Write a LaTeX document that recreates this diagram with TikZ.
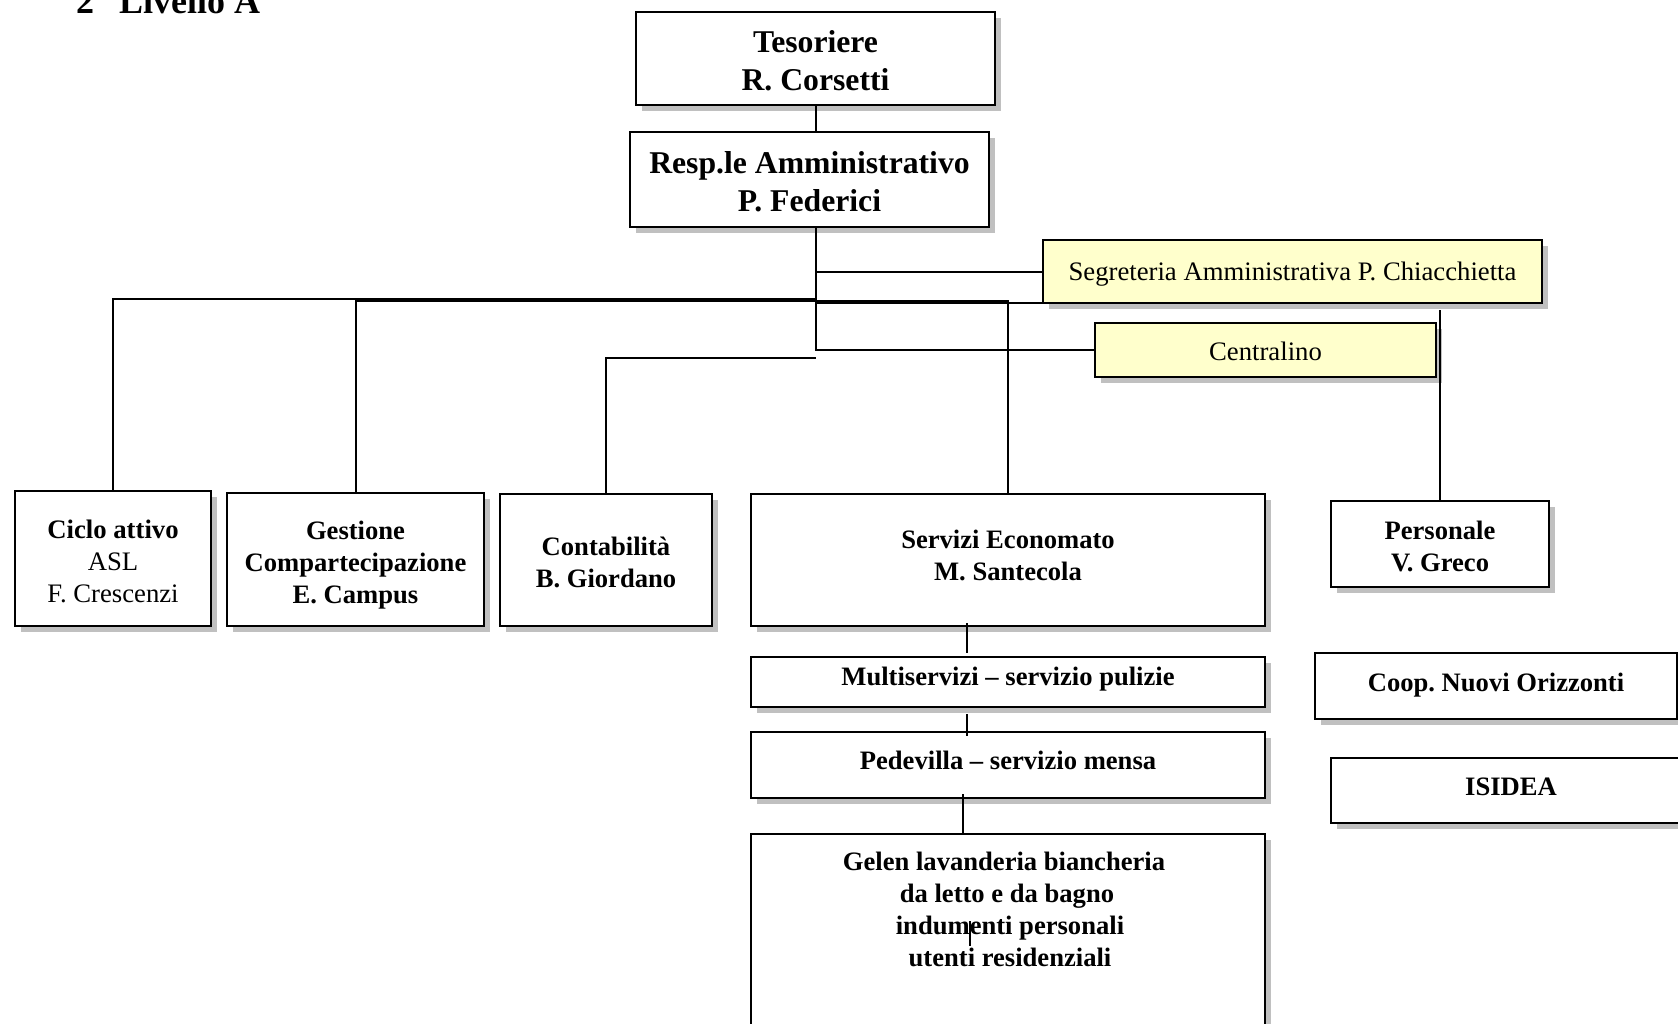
\documentclass[tikz,border=0pt]{standalone}
\usepackage{fontspec}
\setmainfont{Liberation Serif}
\usetikzlibrary{shadows}
\definecolor{shade}{HTML}{C0C0C0}
\definecolor{paleyellow}{HTML}{FFFFCC}
\tikzset{
  box/.style={draw=black, line width=2pt, fill=white, inner sep=0pt,
    general shadow={fill=shade, shadow xshift=6pt, shadow yshift=-6pt}},
  ybox/.style={box, fill=paleyellow},
  big/.style={font=\bfseries\fontsize{31.7}{38.5}\selectfont},
  med/.style={font=\bfseries\fontsize{26.6}{32}\selectfont},
  reg/.style={font=\fontsize{26.7}{32}\selectfont},
  txt/.style={align=center, inner sep=0pt},
  link/.style={draw=black, line width=2pt},
}
\begin{document}
\begin{tikzpicture}[x=1pt,y=-1pt]
\useasboundingbox (0,0) rectangle (1678,1023);
\clip (0,0) rectangle (1678,1023);
\fill[white] (0,0) rectangle (1678,1023);

% heading
\node[anchor=base west, inner sep=0pt, font=\bfseries\fontsize{36}{40}\selectfont] (title) at (76,13) {2\hspace{25pt}Livello A};

% boxes
\node[box, minimum width=359pt, minimum height=93pt] (tes) at (815.5,58.5) {};
\node[box, minimum width=359pt, minimum height=95pt] (resp) at (809.5,179.5) {};
\node[ybox, minimum width=499pt, minimum height=63pt] (segr) at (1292.5,271.5) {};
\node[ybox, minimum width=341pt, minimum height=54pt] (cent) at (1265.5,350) {};
\node[box, minimum width=196pt, minimum height=135pt] (ciclo) at (113,558.5) {};
\node[box, minimum width=257pt, minimum height=133pt] (gest) at (355.5,559.5) {};
\node[box, minimum width=212pt, minimum height=132pt] (cont) at (606,560) {};
\node[box, minimum width=514pt, minimum height=132pt] (serv) at (1008,560) {};
\node[box, minimum width=514pt, minimum height=50pt] (multi) at (1008,682) {};
\node[box, minimum width=514pt, minimum height=66pt] (pede) at (1008,765) {};
\node[box, minimum width=514pt, minimum height=226pt] (gelen) at (1008,947) {};
\node[box, minimum width=218pt, minimum height=86pt] (pers) at (1440,544) {};
\node[box, minimum width=362pt, minimum height=66pt] (coop) at (1496,686) {};
\node[box, minimum width=369pt, minimum height=65pt] (isidea) at (1515.5,790.5) {};

% texts
\node[txt, big] (tes-t) at (815.5,60.5) {Tesoriere\\R. Corsetti};
\node[txt, big] (resp-t) at (809.5,181.5) {Resp.le Amministrativo\\P. Federici};
\node[txt, reg] (segr-t) at (1292.5,274.5) {Segreteria Amministrativa P. Chiacchietta};
\node[txt, reg] (cent-t) at (1265.5,351) {Centralino};
\node[txt, reg] (ciclo-t) at (113,561.5) {\textbf{Ciclo attivo}\\ASL\\F. Crescenzi};
\node[txt, med] (gest-t) at (355.5,565.5) {Gestione\\Compartecipazione\\E. Campus};
\node[txt, med] (cont-t) at (606,562) {Contabilità\\B. Giordano};
\node[txt, med] (serv-t) at (1008,555) {Servizi Economato\\M. Santecola};
\node[txt, med] (multi-t) at (1008,679) {Multiservizi – servizio pulizie};
\node[txt, med] (pede-t) at (1008,760) {Pedevilla – servizio mensa};
\node[txt, med] (gelen-t) at (1004,909.5) {Gelen lavanderia biancheria\\\hspace*{6pt}da letto e da bagno\\\hspace*{12pt}indumenti personali\\\hspace*{12pt}utenti residenziali};
\node[txt, med] (pers-t) at (1440,546) {Personale\\V. Greco};
\node[txt, med] (coop-t) at (1496,685) {Coop.\ Nuovi Orizzonti};
\node[txt, med] (isidea-t) at (1511,787) {ISIDEA};

% helper coordinates for bus levels
\coordinate (yA) at (0,299);
\coordinate (yB) at (0,301);
\coordinate (yC) at (0,303);
\coordinate (yC2) at (0,310);
\coordinate (yD) at (0,358);

% connectors
\draw[link] (tes.south) -- (tes.south |- resp.north);
\draw[link] (tes.south |- resp.south) |- (cent.west);
\draw[link] (tes.south |- segr.west) -- (segr.west);
\draw[link] (ciclo.north) |- (tes.south |- yA);
\draw[link] (gest.north) |- (serv.north |- yB) -- (serv.north);
\draw[link] (tes.south |- yC) -- (pers.north |- yC);
\draw[link] (pers.north |- yC2) -- (pers.north);
\draw[link] (cont.north) |- (tes.south |- yD);

\draw[link] ([xshift=-41pt,yshift=4pt]serv.south) -- ([xshift=-41pt,yshift=3pt]multi.north);
\draw[link] ([xshift=-41pt,yshift=-6pt]multi.south) -- ([xshift=-41pt,yshift=-5pt]pede.north);
\draw[link] ([xshift=-45pt,yshift=5pt]pede.south) -- ([xshift=-45pt]gelen.north);

% stray mark inside the last box
\draw[line width=1.5pt] (970,921) -- (970,946);
\end{tikzpicture}
\end{document}
